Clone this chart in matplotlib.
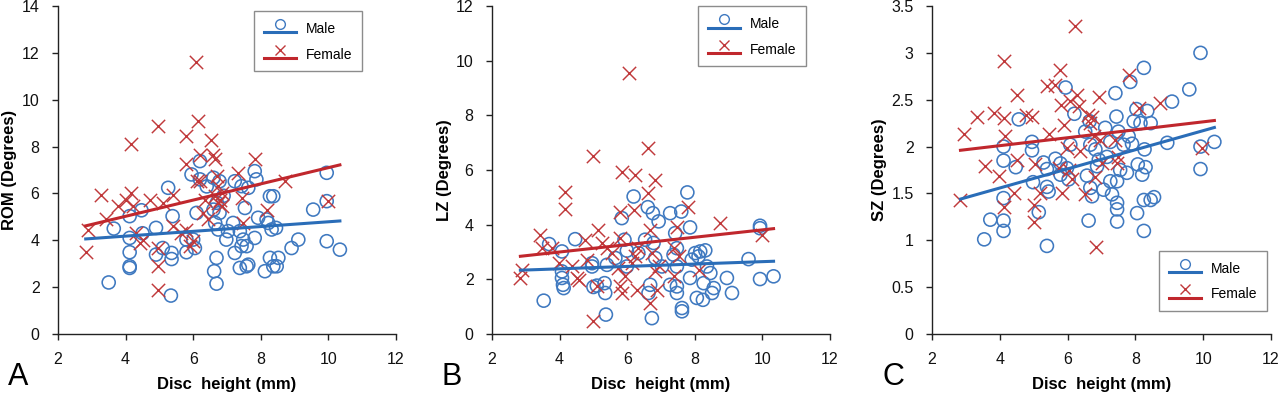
import numpy as np
import matplotlib
matplotlib.use("Agg")
import matplotlib.pyplot as plt
from matplotlib.lines import Line2D
from matplotlib.legend_handler import HandlerBase

plt.rcParams['font.family'] = ['Liberation Sans', 'DejaVu Sans']

# ---------------- Panel A: ROM ----------------
romM_x = [3.5, 3.65, 4.12, 4.12, 4.12, 4.12, 4.12, 4.47, 4.5, 4.9, 4.9, 5.1, 5.26, 5.36, 5.36, 5.34,
          5.39, 5.8, 5.8, 5.95, 6.0, 6.05, 6.1, 6.2, 6.2, 6.4, 6.6, 6.6, 6.65, 6.69, 6.62, 6.69, 6.74,
          6.78, 6.78, 6.98, 7.03, 7.18, 7.23, 7.23, 7.38, 7.38, 7.43, 7.43, 7.48, 7.53, 7.58, 7.63,
          7.58, 7.63, 7.82, 7.82, 7.87, 7.92, 8.12, 8.17, 8.22, 8.27, 8.27, 8.32, 8.37, 8.37, 8.45,
          8.47, 8.52, 8.91, 9.11, 9.55, 9.95, 9.95, 9.95, 10.34, 6.7, 6.9]
romM_y = [2.2, 4.5, 3.49, 2.89, 2.82, 4.1, 5.03, 5.28, 4.3, 4.53, 3.39, 3.67, 6.24, 3.46, 3.2, 1.64,
          5.03, 3.49, 4.03, 6.81, 4.03, 3.67, 5.17, 7.38, 6.6, 6.3, 6.67, 5.31, 4.74, 3.25, 2.68, 2.15, 4.46,
          6.52, 5.17, 4.03, 4.39, 4.74, 3.46, 6.52, 4.39, 2.82, 6.31, 3.75, 4.03, 5.38, 2.89, 2.96,
          3.75, 6.24, 4.1, 6.95, 6.6, 4.96, 2.68, 4.89, 4.74, 5.88, 3.25, 4.46, 5.88, 2.89, 4.53,
          2.89, 3.25, 3.67, 4.03, 5.31, 6.88, 5.67, 3.96, 3.6, 5.6, 5.9]
romF_x = [2.82, 2.89, 3.28, 3.43, 3.78, 4.02, 4.17, 4.17, 4.22, 4.32, 4.42, 4.52, 4.71, 4.96, 4.96,
          4.96, 4.96, 5.11, 5.41, 5.41, 5.65, 5.8, 5.8, 5.8, 5.9, 6.0, 6.08, 6.1, 6.15, 6.2, 6.2, 6.29,
          6.34, 6.44, 6.54, 6.59, 6.64, 6.64, 6.69, 6.74, 6.74, 6.79, 6.84, 6.84, 7.33, 7.43, 7.48,
          7.82, 8.17, 8.71, 10.0]
romF_y = [3.49, 4.46, 5.95, 4.89, 5.46, 5.74, 6.03, 8.13, 5.46, 4.32, 3.89, 4.03, 5.74, 8.87, 3.67,
          2.89, 1.87, 5.6, 5.95, 4.6, 4.32, 8.45, 7.24, 4.46, 3.75, 3.96, 11.6, 6.52, 9.09, 7.66, 6.52, 5.17,
          5.74, 4.89, 8.3, 7.66, 7.45, 5.88, 6.74, 6.31, 5.6, 5.74, 5.46, 6.03, 6.88, 5.81, 4.74,
          7.45, 5.31, 6.52, 5.67]
romM_fit = [0.102, 3.77]   # slope, intercept
romF_fit = [0.346, 3.64]

# ---------------- Panel B: LZ ----------------
lzM_x = [3.53, 3.69, 4.07, 4.07, 4.07, 4.1, 4.12, 4.46, 4.96, 4.96, 5.0, 5.1, 5.33, 5.35, 5.4, 5.37,
         5.65, 5.84, 5.92, 5.99, 5.99, 6.19, 6.33, 6.53, 6.61, 6.63, 6.68, 6.73, 6.76, 6.78, 6.83, 6.93,
         7.03, 7.27, 7.27, 7.37, 7.42, 7.47, 7.47, 7.47, 7.47, 7.6, 7.62, 7.62, 7.78, 7.86, 7.86, 7.91,
         8.01, 8.06, 8.11, 8.16, 8.24, 8.26, 8.31, 8.36, 8.46, 8.51, 8.56, 8.95, 9.1, 9.59, 9.93, 9.93,
         9.93, 10.33]
lzM_y = [1.22, 3.29, 3.02, 2.29, 2.05, 1.8, 1.68, 3.47, 2.59, 2.47, 1.72, 1.77, 1.86, 1.5, 2.53, 0.71,
         2.78, 4.24, 3.45, 3.05, 2.47, 5.03, 2.96, 3.45, 4.64, 1.5, 1.8, 0.58, 4.42, 3.33, 2.78, 4.12,
         2.47, 4.42, 1.8, 2.9, 3.69, 3.14, 1.74, 1.5, 2.47, 4.48, 0.95, 0.83, 5.18, 3.9, 2.05, 2.72,
         2.96, 1.32, 2.84, 3.02, 1.25, 1.86, 3.06, 2.47, 2.23, 1.5, 1.68, 2.05, 1.5, 2.74, 2.01, 3.96,
         3.87, 2.11]
lzF_x = [2.84, 2.89, 3.43, 3.48, 3.77, 3.97, 4.17, 4.17, 4.36, 4.51, 4.56, 4.76, 4.81, 5.0, 5.0, 5.1,
         5.15, 5.25, 5.4, 5.55, 5.74, 5.79, 5.84, 5.79, 5.79, 5.84, 5.94, 6.06, 6.14, 6.19, 6.24, 6.24,
         6.29, 6.33, 6.61, 6.63, 6.68, 6.68, 6.73, 6.81, 6.83, 6.88, 6.93, 7.37, 7.37, 7.47, 7.52, 7.81,
         8.11, 8.75, 9.98]
lzF_y = [2.05, 2.35, 3.63, 3.14, 3.14, 2.59, 5.18, 4.58, 2.47, 2.05, 1.99, 3.45, 2.72, 6.52, 0.46, 1.74,
         3.81, 3.33, 3.14, 2.96, 2.41, 1.74, 5.94, 4.48, 3.51, 1.5, 2.11, 9.56, 2.59, 4.54, 5.82, 2.84,
         1.62, 3.14, 6.8, 5.15, 3.81, 1.13, 2.96, 5.64, 2.29, 1.62, 2.47, 3.14, 2.11, 3.93, 2.84, 4.66,
         2.35, 4.06, 3.63]
lzM_fit = [0.0437, 2.21]
lzF_fit = [0.135, 2.46]

# ---------------- Panel C: SZ ----------------
szM_x = [3.54, 3.72, 4.11, 4.11, 4.11, 4.11, 4.11, 4.47, 4.56, 4.95, 4.95, 4.98, 5.15, 5.29, 5.39, 5.39,
         5.44, 5.39, 5.64, 5.79, 5.79, 5.94, 5.98, 6.03, 6.08, 6.2, 6.52, 6.57, 6.62, 6.65, 6.67, 6.72,
         6.67, 6.82, 6.87, 6.92, 7.06, 7.11, 7.16, 7.26, 7.26, 7.31, 7.41, 7.44, 7.46, 7.46, 7.46, 7.46,
         7.5, 7.55, 7.65, 7.75, 7.8, 7.85, 7.9, 7.95, 8.03, 8.05, 8.07, 8.15, 8.2, 8.25, 8.25, 8.25,
         8.27, 8.3, 8.35, 8.45, 8.45, 8.55, 8.94, 9.08, 9.59, 9.92, 9.92, 9.92, 10.33]
szM_y = [1.01, 1.22, 2.0, 1.85, 1.45, 1.21, 1.1, 1.78, 2.29, 2.05, 1.96, 1.62, 1.3, 1.83, 1.76, 1.57,
         1.52, 0.94, 1.87, 1.82, 1.7, 2.63, 1.77, 1.65, 2.02, 2.35, 2.16, 1.69, 1.21, 2.27, 1.56, 1.47,
         2.02, 1.97, 1.79, 1.86, 1.54, 2.2, 1.89, 2.05, 1.63, 1.49, 2.57, 2.32, 1.63, 1.4, 1.33, 1.2,
         2.16, 1.75, 2.02, 1.72, 2.11, 2.69, 2.03, 2.27, 2.4, 1.29, 1.81, 2.25, 1.7, 2.84, 1.43, 1.1,
         1.97, 1.78, 2.38, 2.25, 1.43, 1.46, 2.04, 2.48, 2.61, 3.0, 2.0, 1.76, 2.05]
szF_x = [2.84, 2.93, 3.33, 3.57, 3.82, 3.97, 4.11, 4.13, 4.16, 4.13, 4.41, 4.51, 4.51, 4.76, 4.95, 5.0,
         5.0, 5.05, 5.2, 5.39, 5.44, 5.64, 5.74, 5.79, 5.81, 5.84, 5.88, 5.98, 6.03, 6.08, 6.13, 6.23,
         6.28, 6.33, 6.38, 6.52, 6.59, 6.67, 6.72, 6.77, 6.82, 6.85, 6.92, 6.97, 7.02, 7.41, 7.46, 7.5,
         7.8, 8.1, 8.74, 9.96]
szF_y = [1.43, 2.13, 2.32, 1.79, 2.36, 1.69, 2.91, 2.3, 2.11, 1.36, 1.5, 2.55, 1.86, 2.34, 2.32, 1.38,
         1.2, 1.81, 1.5, 2.65, 2.13, 2.66, 1.77, 2.82, 2.44, 1.5, 2.23, 1.98, 1.75, 2.49, 1.65, 3.29,
         2.55, 2.43, 1.95, 1.49, 2.34, 2.25, 2.32, 2.11, 1.68, 0.93, 2.53, 2.07, 1.82, 2.07, 1.82, 1.89,
         2.76, 2.41, 2.47, 1.98]
szM_fit = [0.102, 1.15]
szF_fit = [0.0424, 1.84]

panel_letters = ["A", "B", "C"]
ylabels = ["ROM (Degrees)", "LZ (Degrees)", "SZ (Degrees)"]
xlabel = "Disc  height (mm)"
yticks_list = [np.arange(0, 14.1, 2), np.arange(0, 12.1, 2), np.arange(0, 3.51, 0.5)]
xticks = [2, 4, 6, 8, 10, 12]
series_labels = ["Male", "Female"]

BLUE = "#3f79c0"
BLUE_LINE = "#2a6db8"
RED = "#c0393b"
RED_LINE = "#c0272d"


class HandlerMarkerAboveLine(HandlerBase):
    def __init__(self, marker, mcolor, lcolor, ms, mfc, mew):
        super().__init__()
        self.marker, self.mcolor, self.lcolor = marker, mcolor, lcolor
        self.ms, self.mfc, self.mew = ms, mfc, mew

    def create_artists(self, legend, orig_handle, xdescent, ydescent, width, height, fontsize, trans):
        ly = -ydescent + height * 0.22
        line = Line2D([-xdescent, -xdescent + width], [ly, ly], color=self.lcolor, lw=2.2,
                      transform=trans)
        mk = Line2D([-xdescent + width / 2], [-ydescent + height * 0.78], marker=self.marker,
                    linestyle='none', markersize=self.ms, markeredgecolor=self.mcolor,
                    markerfacecolor=self.mfc, markeredgewidth=self.mew, transform=trans)
        return [line, mk]


fig = plt.figure(figsize=(12.8, 3.96), dpi=100)
H = 396.0
W = 1280.0
axes_px = [(58, 338), (492, 338), (932, 339)]
bottom = (H - 334) / H
height = 328 / H

data = [
    (romM_x, romM_y, romF_x, romF_y, romM_fit, romF_fit),
    (lzM_x, lzM_y, lzF_x, lzF_y, lzM_fit, lzF_fit),
    (szM_x, szM_y, szF_x, szF_y, szM_fit, szF_fit),
]
legend_anchor = [(0.58, 0.985, 'upper left'), (0.609, 1.0, 'upper left'), (0.67, 0.07, 'lower left')]

for i, (mx, my, fx, fy, mfit, ffit) in enumerate(data):
    left, w = axes_px[i]
    ax = fig.add_axes([left / W, bottom, w / W, height])
    ax.scatter(mx, my, s=88, facecolors='none', edgecolors=BLUE, linewidths=1.15, zorder=3)
    ax.scatter(fx, fy, s=92, marker='x', color=RED, linewidths=1.05, zorder=3)
    allx = np.array(list(mx) + list(fx))
    xs = np.array([allx.min(), allx.max()])
    ax.plot(xs, mfit[0] * xs + mfit[1], color=BLUE_LINE, lw=2.2, zorder=4)
    ax.plot(xs, ffit[0] * xs + ffit[1], color=RED_LINE, lw=2.2, zorder=4)

    yt = yticks_list[i]
    ax.set_xlim(2, 12)
    ax.set_ylim(yt[0], yt[-1])
    ax.set_xticks(xticks)
    ax.set_yticks(yt)
    ax.set_yticklabels([f"{v:g}" for v in yt])
    for s in ['top', 'right']:
        ax.spines[s].set_visible(False)
    for s in ['left', 'bottom']:
        ax.spines[s].set_color('#222222')
        ax.spines[s].set_linewidth(1.0)
    ax.tick_params(axis='both', direction='out', width=1.0, color='#222222',
                   labelsize=11.5, labelcolor='#111111')
    ax.tick_params(axis='x', length=4, pad=9)
    ax.tick_params(axis='y', length=4.3, pad=9)
    ax.set_xlabel(xlabel, fontsize=12, fontweight='bold', labelpad=7)
    ax.set_ylabel(ylabels[i], fontsize=12, fontweight='bold', labelpad=3)

    hm = Line2D([], [])
    hf = Line2D([], [])
    ax_x, ax_y, loc = legend_anchor[i]
    leg = ax.legend([hm, hf], series_labels, loc=loc, bbox_to_anchor=(ax_x, ax_y),
                    handler_map={hm: HandlerMarkerAboveLine('o', BLUE, BLUE_LINE, 7, 'none', 1.0),
                                 hf: HandlerMarkerAboveLine('x', RED, RED_LINE, 7.5, RED, 1.0)},
                    fontsize=10, frameon=True, fancybox=False, edgecolor='#707070',
                    handlelength=2.3, handleheight=1.3, labelspacing=0.75, borderpad=0.7,
                    handletextpad=0.75, borderaxespad=0)
    leg.get_frame().set_linewidth(1.0)

    fig.text((left - 50) / W, 1 - 377 / H, panel_letters[i], fontsize=22, va='center', ha='left')

fig.savefig("out.png", dpi=100)
